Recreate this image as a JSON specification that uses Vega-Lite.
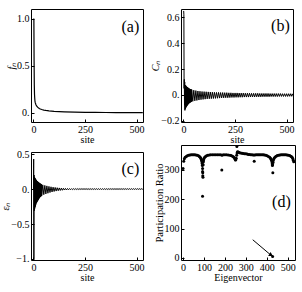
{
"$schema":"https://vega.github.io/schema/vega-lite/v6.json",
"background":"white",
"padding":{"left":0,"top":8,"right":0,"bottom":0},
"config":{
 "font":"Liberation Serif",
 "view":{"stroke":"black","strokeWidth":1},
 "axis":{"domain":false,"grid":false,"labelFont":"Liberation Serif","titleFont":"Liberation Serif","labelFontSize":10,"titleFontSize":10,"labelColor":"black","titleColor":"black","tickColor":"black","titleFontWeight":"normal","tickSize":-3,"labelPadding":5,"titlePadding":0,"labelFlush":false,"labelOverlap":false,"tickCount":20}
},
"datasets":{
 "fa":[{"s":0,"v":1.0},{"s":1,"v":1.0},{"s":2,"v":0.99},{"s":3,"v":0.55},{"s":4,"v":0.3},{"s":5,"v":0.2},{"s":6,"v":0.16},{"s":7,"v":0.13},{"s":8,"v":0.115},{"s":10,"v":0.1},{"s":12,"v":0.088},{"s":15,"v":0.075},{"s":20,"v":0.062},{"s":25,"v":0.052},{"s":30,"v":0.045},{"s":40,"v":0.037},{"s":50,"v":0.031},{"s":60,"v":0.027},{"s":75,"v":0.022},{"s":100,"v":0.017},{"s":125,"v":0.014},{"s":150,"v":0.012},{"s":200,"v":0.009},{"s":250,"v":0.007},{"s":300,"v":0.006},{"s":350,"v":0.005},{"s":400,"v":0.004},{"s":450,"v":0.0035},{"s":500,"v":0.003},{"s":530,"v":0.003}],
 "cb":[{"s":1,"v":0.65},{"s":2,"v":0.62},{"s":3,"v":0.05},{"s":4,"v":0.12},{"s":5,"v":-0.08},{"s":6,"v":0.1},{"s":7,"v":-0.12},{"s":8,"v":0.07},{"s":9,"v":-0.11},{"s":10,"v":0.075},{"s":11,"v":-0.1},{"s":12,"v":0.07},{"s":13,"v":-0.095},{"s":14,"v":0.065},{"s":15,"v":-0.09},{"s":16,"v":0.062},{"s":17,"v":-0.085},{"s":18,"v":0.06},{"s":19,"v":-0.08},{"s":20,"v":0.058},{"s":21,"v":-0.075},{"s":22,"v":0.055},{"s":23,"v":-0.072},{"s":24,"v":0.052},{"s":25,"v":-0.068},{"s":26,"v":0.05},{"s":27,"v":-0.065},{"s":28,"v":0.048},{"s":29,"v":-0.062},{"s":30,"v":0.046},{"s":31,"v":-0.06},{"s":32,"v":0.044},{"s":33,"v":-0.058},{"s":34,"v":0.043},{"s":35,"v":-0.056},{"s":36,"v":0.042},{"s":37,"v":-0.054},{"s":38,"v":0.041},{"s":39,"v":-0.052},{"s":40,"v":0.04},{"s":45,"v":-0.05},{"s":50,"v":0.036},{"s":55,"v":-0.046},{"s":60,"v":0.033},{"s":65,"v":-0.043},{"s":70,"v":0.03},{"s":75,"v":-0.04},{"s":80,"v":0.028},{"s":85,"v":-0.037},{"s":90,"v":0.026},{"s":95,"v":-0.035},{"s":100,"v":0.025},{"s":105,"v":-0.033},{"s":110,"v":0.024},{"s":115,"v":-0.031},{"s":120,"v":0.023},{"s":125,"v":-0.03},{"s":130,"v":0.022},{"s":135,"v":-0.029},{"s":140,"v":0.021},{"s":145,"v":-0.028},{"s":150,"v":0.02},{"s":155,"v":-0.027},{"s":160,"v":0.019},{"s":165,"v":-0.026},{"s":170,"v":0.019},{"s":175,"v":-0.025},{"s":180,"v":0.018},{"s":185,"v":-0.024},{"s":190,"v":0.018},{"s":195,"v":-0.023},{"s":200,"v":0.017},{"s":205,"v":-0.022},{"s":210,"v":0.017},{"s":215,"v":-0.022},{"s":220,"v":0.016},{"s":225,"v":-0.021},{"s":230,"v":0.016},{"s":235,"v":-0.02},{"s":240,"v":0.015},{"s":245,"v":-0.02},{"s":250,"v":0.015},{"s":255,"v":-0.019},{"s":260,"v":0.015},{"s":265,"v":-0.019},{"s":270,"v":0.014},{"s":275,"v":-0.018},{"s":280,"v":0.014},{"s":285,"v":-0.018},{"s":290,"v":0.014},{"s":295,"v":-0.017},{"s":300,"v":0.013},{"s":305,"v":-0.017},{"s":310,"v":0.013},{"s":315,"v":-0.017},{"s":320,"v":0.013},{"s":325,"v":-0.016},{"s":330,"v":0.012},{"s":335,"v":-0.016},{"s":340,"v":0.012},{"s":345,"v":-0.016},{"s":350,"v":0.012},{"s":355,"v":-0.015},{"s":360,"v":0.012},{"s":365,"v":-0.015},{"s":370,"v":0.011},{"s":375,"v":-0.015},{"s":380,"v":0.011},{"s":385,"v":-0.014},{"s":390,"v":0.011},{"s":395,"v":-0.014},{"s":400,"v":0.011},{"s":405,"v":-0.014},{"s":410,"v":0.011},{"s":415,"v":-0.014},{"s":420,"v":0.01},{"s":425,"v":-0.013},{"s":430,"v":0.01},{"s":435,"v":-0.013},{"s":440,"v":0.01},{"s":445,"v":-0.013},{"s":450,"v":0.01},{"s":455,"v":-0.013},{"s":460,"v":0.01},{"s":465,"v":-0.012},{"s":470,"v":0.01},{"s":475,"v":-0.012},{"s":480,"v":0.009},{"s":485,"v":-0.012},{"s":490,"v":0.009},{"s":495,"v":-0.012},{"s":500,"v":0.009},{"s":505,"v":-0.012},{"s":510,"v":0.009},{"s":515,"v":-0.011},{"s":520,"v":0.009},{"s":525,"v":-0.011},{"s":530,"v":0.009}],
 "ec":[{"s":0,"v":0.0},{"s":1,"v":0.43},{"s":2,"v":-1.0},{"s":3,"v":0.2},{"s":4,"v":-0.31},{"s":5,"v":0.17},{"s":6,"v":-0.28},{"s":7,"v":0.16},{"s":8,"v":-0.26},{"s":9,"v":0.15},{"s":10,"v":-0.24},{"s":11,"v":0.14},{"s":12,"v":-0.22},{"s":13,"v":0.13},{"s":14,"v":-0.2},{"s":15,"v":0.12},{"s":16,"v":-0.19},{"s":17,"v":0.115},{"s":18,"v":-0.18},{"s":19,"v":0.11},{"s":20,"v":-0.17},{"s":21,"v":0.105},{"s":22,"v":-0.16},{"s":23,"v":0.1},{"s":24,"v":-0.15},{"s":25,"v":0.095},{"s":26,"v":-0.14},{"s":27,"v":0.09},{"s":28,"v":-0.13},{"s":29,"v":0.085},{"s":30,"v":-0.12},{"s":31,"v":0.08},{"s":32,"v":-0.115},{"s":33,"v":0.077},{"s":34,"v":-0.11},{"s":35,"v":0.074},{"s":36,"v":-0.105},{"s":37,"v":0.07},{"s":38,"v":-0.1},{"s":39,"v":0.066},{"s":40,"v":-0.095},{"s":45,"v":0.06},{"s":50,"v":-0.08},{"s":55,"v":0.052},{"s":60,"v":-0.07},{"s":65,"v":0.045},{"s":70,"v":-0.06},{"s":75,"v":0.038},{"s":80,"v":-0.05},{"s":85,"v":0.032},{"s":90,"v":-0.042},{"s":95,"v":0.027},{"s":100,"v":-0.035},{"s":105,"v":0.023},{"s":110,"v":-0.029},{"s":115,"v":0.019},{"s":120,"v":-0.024},{"s":125,"v":0.016},{"s":130,"v":-0.02},{"s":135,"v":0.013},{"s":140,"v":-0.017},{"s":145,"v":0.011},{"s":150,"v":-0.014},{"s":155,"v":0.009},{"s":160,"v":-0.012},{"s":165,"v":0.008},{"s":170,"v":-0.01},{"s":175,"v":0.007},{"s":180,"v":-0.009},{"s":185,"v":0.006},{"s":190,"v":-0.008},{"s":195,"v":0.006},{"s":200,"v":-0.007},{"s":205,"v":0.006},{"s":210,"v":-0.007},{"s":215,"v":0.006},{"s":220,"v":-0.007},{"s":225,"v":0.006},{"s":230,"v":-0.006},{"s":235,"v":0.006},{"s":240,"v":-0.006},{"s":245,"v":0.006},{"s":250,"v":-0.006},{"s":255,"v":0.006},{"s":260,"v":-0.006},{"s":265,"v":0.005},{"s":270,"v":-0.006},{"s":275,"v":0.005},{"s":280,"v":-0.006},{"s":285,"v":0.005},{"s":290,"v":-0.006},{"s":295,"v":0.005},{"s":300,"v":-0.006},{"s":305,"v":0.005},{"s":310,"v":-0.006},{"s":315,"v":0.005},{"s":320,"v":-0.006},{"s":325,"v":0.005},{"s":330,"v":-0.006},{"s":335,"v":0.005},{"s":340,"v":-0.006},{"s":345,"v":0.005},{"s":350,"v":-0.006},{"s":355,"v":0.005},{"s":360,"v":-0.006},{"s":365,"v":0.005},{"s":370,"v":-0.005},{"s":375,"v":0.005},{"s":380,"v":-0.005},{"s":385,"v":0.005},{"s":390,"v":-0.005},{"s":395,"v":0.005},{"s":400,"v":-0.005},{"s":405,"v":0.005},{"s":410,"v":-0.005},{"s":415,"v":0.005},{"s":420,"v":-0.005},{"s":425,"v":0.005},{"s":430,"v":-0.005},{"s":435,"v":0.005},{"s":440,"v":-0.005},{"s":445,"v":0.005},{"s":450,"v":-0.005},{"s":455,"v":0.005},{"s":460,"v":-0.005},{"s":465,"v":0.005},{"s":470,"v":-0.005},{"s":475,"v":0.005},{"s":480,"v":-0.005},{"s":485,"v":0.005},{"s":490,"v":-0.005},{"s":495,"v":0.005},{"s":500,"v":-0.005},{"s":505,"v":0.005},{"s":510,"v":-0.005},{"s":515,"v":0.005},{"s":520,"v":-0.005},{"s":525,"v":0.005},{"s":530,"v":-0.005}],
 "pd":[{"e":0,"p":305},{"e":3,"p":330},{"e":6,"p":338},{"e":10,"p":343},{"e":15,"p":346},{"e":20,"p":348},{"e":26,"p":350},{"e":32,"p":351},{"e":38,"p":352},{"e":44,"p":352},{"e":50,"p":352},{"e":56,"p":352},{"e":62,"p":351},{"e":68,"p":350},{"e":74,"p":348},{"e":78,"p":346},{"e":82,"p":343},{"e":85,"p":340},{"e":87,"p":336},{"e":89,"p":332},{"e":90,"p":328},{"e":91,"p":322},{"e":92,"p":315},{"e":93,"p":305},{"e":93,"p":295},{"e":94,"p":290},{"e":94,"p":280},{"e":95,"p":275},{"e":93,"p":210},{"e":96,"p":318},{"e":97,"p":328},{"e":98,"p":334},{"e":100,"p":339},{"e":103,"p":343},{"e":107,"p":346},{"e":112,"p":348},{"e":118,"p":350},{"e":125,"p":351},{"e":132,"p":352},{"e":140,"p":352},{"e":148,"p":352},{"e":156,"p":352},{"e":164,"p":352},{"e":172,"p":352},{"e":180,"p":352},{"e":185,"p":300},{"e":186,"p":350},{"e":192,"p":352},{"e":200,"p":352},{"e":208,"p":352},{"e":216,"p":351},{"e":224,"p":350},{"e":230,"p":349},{"e":236,"p":347},{"e":240,"p":345},{"e":244,"p":342},{"e":247,"p":338},{"e":250,"p":334},{"e":252,"p":335},{"e":254,"p":340},{"e":256,"p":350},{"e":258,"p":358},{"e":260,"p":362},{"e":257,"p":380},{"e":263,"p":361},{"e":266,"p":360},{"e":270,"p":359},{"e":276,"p":358},{"e":282,"p":357},{"e":288,"p":356},{"e":294,"p":355},{"e":300,"p":355},{"e":306,"p":354},{"e":312,"p":353},{"e":318,"p":353},{"e":324,"p":352},{"e":330,"p":352},{"e":336,"p":351},{"e":340,"p":330},{"e":342,"p":351},{"e":348,"p":352},{"e":354,"p":352},{"e":360,"p":352},{"e":366,"p":352},{"e":372,"p":352},{"e":378,"p":352},{"e":384,"p":352},{"e":390,"p":351},{"e":396,"p":350},{"e":402,"p":348},{"e":408,"p":346},{"e":414,"p":343},{"e":418,"p":340},{"e":421,"p":336},{"e":423,"p":332},{"e":425,"p":327},{"e":426,"p":321},{"e":427,"p":315},{"e":428,"p":318},{"e":429,"p":290},{"e":430,"p":325},{"e":431,"p":332},{"e":433,"p":337},{"e":436,"p":341},{"e":440,"p":344},{"e":445,"p":347},{"e":450,"p":349},{"e":456,"p":350},{"e":462,"p":351},{"e":468,"p":352},{"e":474,"p":352},{"e":480,"p":352},{"e":486,"p":352},{"e":492,"p":352},{"e":498,"p":351},{"e":504,"p":350},{"e":510,"p":349},{"e":515,"p":347},{"e":519,"p":345},{"e":522,"p":342},{"e":525,"p":338},{"e":527,"p":333},{"e":529,"p":328},{"e":428,"p":5}]
},
"spacing":4,
"hconcat":[
 {"spacing":3,"vconcat":[
  {"width":112,"height":113,"layer":[
   {"data":{"name":"fa"},"mark":{"type":"line","color":"black","strokeWidth":1.2},
    "encoding":{"x":{"field":"s","type":"quantitative","scale":{"domain":[-12,531],"nice":false,"zero":false},"axis":{"values":[0,250,500],"tickCount":20,"title":"site","format":"d","labelOverlap":false}},
     "y":{"field":"v","type":"quantitative","scale":{"domain":[-0.096,1.106],"nice":false},"axis":{"values":[0,0.5,1],"tickCount":20,"title":"fₙ","titleFontStyle":"italic","labelOverlap":false,"labelExpr":"datum.value==0?'0.':format(datum.value,'.1f')"}}}},
   {"data":{"values":[{"t":"(a)"}]},"mark":{"type":"text","fontSize":16,"font":"Liberation Serif","color":"black"},
    "encoding":{"x":{"datum":470},"y":{"datum":0.91},"text":{"field":"t"}}}
  ]},
  {"width":112,"height":108,"layer":[
   {"data":{"name":"ec"},"mark":{"type":"line","color":"black","strokeWidth":1},
    "encoding":{"x":{"field":"s","type":"quantitative","scale":{"domain":[-12,531],"nice":false,"zero":false},"axis":{"values":[0,250,500],"tickCount":20,"title":"site","format":"d","labelOverlap":false}},
     "y":{"field":"v","type":"quantitative","scale":{"domain":[-1.015,0.53],"nice":false},"axis":{"values":[-1,-0.5,0,0.5],"tickCount":20,"title":"εₙ","titleFontStyle":"italic","labelOverlap":false,"labelExpr":"datum.value==0?'0.':datum.value==-1?'−1.':format(datum.value,'.1f')"}}}},
   {"data":{"values":[{"t":"(c)"}]},"mark":{"type":"text","fontSize":16,"font":"Liberation Serif","color":"black"},
    "encoding":{"x":{"datum":470},"y":{"datum":0.29},"text":{"field":"t"}}}
  ]}
 ]},
 {"spacing":-8,"vconcat":[
  {"width":112,"height":113,"layer":[
   {"data":{"name":"cb"},"mark":{"type":"line","color":"black","strokeWidth":1},
    "encoding":{"x":{"field":"s","type":"quantitative","scale":{"domain":[-12,531],"nice":false,"zero":false},"axis":{"values":[0,250,500],"tickCount":20,"title":"site","format":"d","labelOverlap":false}},
     "y":{"field":"v","type":"quantitative","scale":{"domain":[-0.21,0.665],"nice":false},"axis":{"values":[-0.2,0,0.2,0.4,0.6],"tickCount":20,"title":"Cₙ","titleFontStyle":"italic","labelOverlap":false,"labelExpr":"datum.value==0?'0.':format(datum.value,'.1f')"}}}},
   {"data":{"values":[{"t":"(b)"}]},"mark":{"type":"text","fontSize":16,"font":"Liberation Serif","color":"black"},
    "encoding":{"x":{"datum":470},"y":{"datum":0.53},"text":{"field":"t"}}}
  ]},
  {"width":114,"height":115,"layer":[
   {"data":{"name":"pd"},"mark":{"type":"circle","color":"black","opacity":1,"size":9},
    "encoding":{"x":{"field":"e","type":"quantitative","scale":{"domain":[-10,535],"nice":false,"zero":false},"axis":{"values":[0,100,200,300,400,500],"tickCount":20,"title":"Eigenvector","format":"d","labelOverlap":false}},
     "y":{"field":"p","type":"quantitative","scale":{"domain":[-7,385],"nice":false},"axis":{"values":[0,100,200,300],"tickCount":20,"title":"Participation Ratio","titleFontSize":10.5,"format":"d","labelOverlap":false}}}},
   {"data":{"values":[{"t":"(d)"}]},"mark":{"type":"text","fontSize":16,"font":"Liberation Serif","color":"black"},
    "encoding":{"x":{"datum":470},"y":{"datum":192},"text":{"field":"t"}}},
   {"data":{"values":[{"t":"arrow"}]},"mark":{"type":"rule","color":"black","strokeWidth":1},
    "encoding":{"x":{"datum":333},"y":{"datum":62},"x2":{"datum":416},"y2":{"datum":12}}},
   {"data":{"values":[{"t":"head"}]},"mark":{"type":"point","shape":"triangle","angle":121,"filled":true,"color":"black","opacity":1,"size":22},
    "encoding":{"x":{"datum":418},"y":{"datum":11}}}
  ]}
 ]}
]
}
